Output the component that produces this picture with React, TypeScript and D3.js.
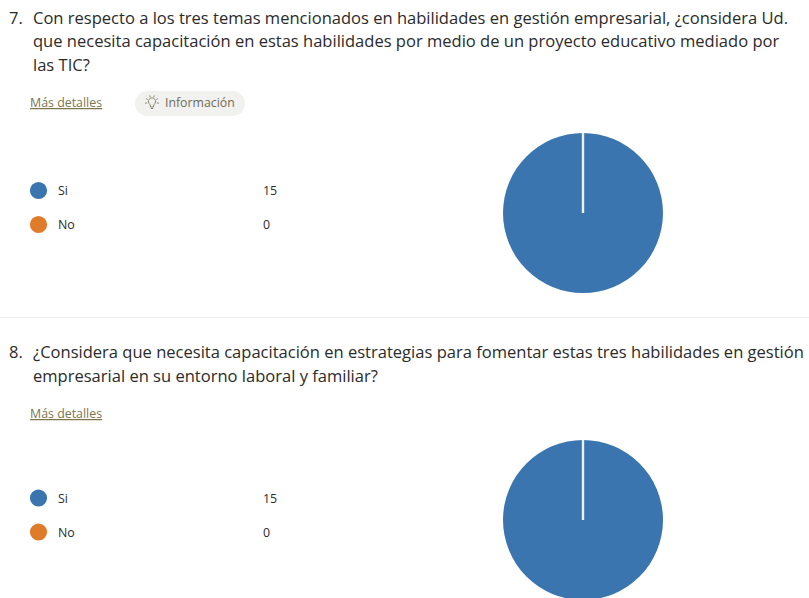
import React from "react";
import * as d3 from "d3";

const categories = ["Si", "No"];
const colors = ["#3a75b0", "#e07b2a"];
const q7Values = [15, 0];
const q8Values = [15, 0];
const q7Lines = [
  "Con respecto a los tres temas mencionados en habilidades en gestión empresarial, ¿considera Ud.",
  "que necesita capacitación en estas habilidades por medio de un proyecto educativo mediado por",
  "las TIC?",
];
const q8Lines = [
  "¿Considera que necesita capacitación en estrategias para fomentar estas tres habilidades en gestión",
  "empresarial en su entorno laboral y familiar?",
];

const FONT = "'Open Sans', 'Noto Sans', sans-serif";
const titleSize = 16.55;
const textColor = "#2b2b2b";
const linkColor = "#7d7550";

function Pie({ values, cx, cy, r }: { values: number[]; cx: number; cy: number; r: number }) {
  const arcs = d3.pie<number>().sort(null)(values);
  const arc = d3.arc<d3.PieArcDatum<number>>().innerRadius(0).outerRadius(r);
  const start = arcs[0].startAngle - Math.PI / 2;
  return (
    <g transform={`translate(${cx},${cy})`}>
      {arcs.map((a, i) => (
        <path key={i} d={arc(a) || ""} fill={colors[i]} />
      ))}
      <line x1={0} y1={0} x2={r * Math.cos(start)} y2={r * Math.sin(start)} stroke="#eef1f5" strokeWidth={2.4} />
    </g>
  );
}

function Question({
  num, lines, values, top, legendY, pieY,
}: {
  num: string; lines: string[]; values: number[]; top: number; legendY: number; pieY: number;
}) {
  const linkY = top + lines.length * 23.5 + 13;
  return (
    <g fontFamily={FONT}>
      <text x={9} y={top} fontSize={titleSize} fill={textColor}>{num}</text>
      {lines.map((l, i) => (
        <text key={i} x={33} y={top + i * 23.5} fontSize={titleSize} fill={textColor}>{l}</text>
      ))}
      <text x={30} y={linkY} fontSize={12.4} fill={linkColor} textDecoration="underline">Más detalles</text>
      {categories.map((c, i) => (
        <g key={c} transform={`translate(0,${legendY + i * 34})`}>
          <circle cx={38.5} cy={0} r={8.6} fill={colors[i]} />
          <text x={58} y={4.7} fontSize={12.4} fill={textColor}>{c}</text>
          <text x={263} y={4.7} fontSize={12.4} fill={textColor}>{values[i]}</text>
        </g>
      ))}
      <Pie values={values} cx={583} cy={pieY} r={80} />
    </g>
  );
}

export default function App() {
  return (
    <svg
      width={809}
      height={598}
      style={{ position: "absolute", left: 0, top: 0, background: "#ffffff" }}
    >
      <Question num="7." lines={q7Lines} values={q7Values} top={23.5} legendY={190.5} pieY={213} />
      <g fontFamily={FONT}>
        <rect x={135} y={91} width={110} height={25} rx={12.5} fill="#f1f1f0" />
        <g transform="translate(152,102)" stroke="#8a8568" fill="none" strokeWidth={1}>
          <path d="M-2,2.5 A3.6,3.6 0 1 1 2,2.5 L1.4,5 L-1.4,5 Z" />
          <path d="M-1.2,6.5 L1.2,6.5" />
          {[-150, -110, -70, -30, 10, 170].map((a) => {
            const t = (a * Math.PI) / 180;
            return <line key={a} x1={5 * Math.cos(t)} y1={5 * Math.sin(t)} x2={7 * Math.cos(t)} y2={7 * Math.sin(t)} />;
          })}
        </g>
        <text x={165} y={107} fontSize={12.3} fill="#6f6b55">Información</text>
      </g>
      <line x1={0} x2={809} y1={317.5} y2={317.5} stroke="#eeeeee" />
      <Question num="8." lines={q8Lines} values={q8Values} top={358} legendY={498} pieY={520} />
    </svg>
  );
}
